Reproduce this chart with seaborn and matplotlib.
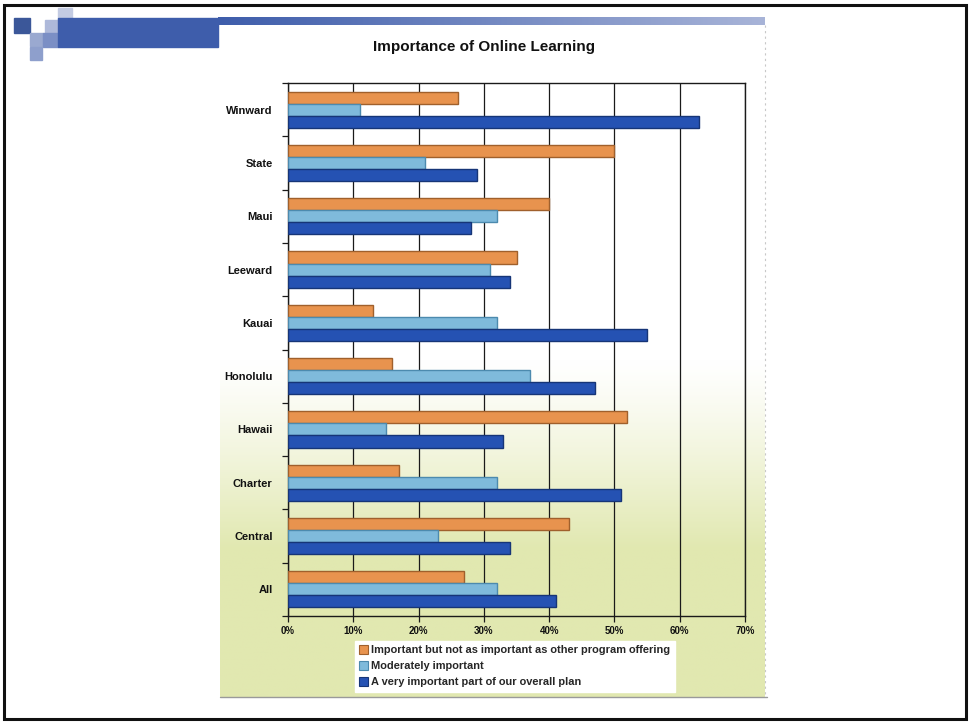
import numpy as np
import pandas as pd
import matplotlib
matplotlib.use("Agg")
import matplotlib.pyplot as plt
import seaborn as sns
from matplotlib.patches import Rectangle, Patch
from matplotlib.ticker import FixedLocator, FuncFormatter

# ---- data -------------------------------------------------------------
categories = ["Winward", "State", "Maui", "Leeward", "Kauai",
              "Honolulu", "Hawaii", "Charter", "Central", "All"]
series_names = ["Important but not as important as other program offering",
                "Moderately important",
                "A very important part of our overall plan"]
not_as_important = [26, 50, 40, 35, 13, 16, 52, 17, 43, 27]
moderately_important = [11, 21, 32, 31, 32, 37, 15, 32, 23, 32]
very_important = [63, 29, 28, 34, 55, 47, 33, 51, 34, 41]
x_ticks = [0, 10, 20, 30, 40, 50, 60, 70]
title = "Importance of Online Learning"

df = pd.DataFrame({
    "site": categories * 3,
    "series": [series_names[0]] * 10 + [series_names[1]] * 10 + [series_names[2]] * 10,
    "pct": not_as_important + moderately_important + very_important,
})

fill_colors = ["#E8934E", "#7FBADB", "#2552B3"]
edge_colors = ["#A0602C", "#4C8AAE", "#163577"]

# ---- figure ------------------------------------------------------------
sns.set_style("white")
plt.rcParams["font.family"] = ["Liberation Sans", "DejaVu Sans"]

W, H = 969, 722
fig = plt.figure(figsize=(W / 100, H / 100), dpi=100, facecolor="white")


def box(x0, y0, w, h):
    """Pixel box (top-left origin) -> figure fraction rect."""
    return [x0 / W, 1 - (y0 + h) / H, w / W, h / H]


def fig_rect(x0, y0, w, h, **kw):
    fig.patches.append(Rectangle((x0 / W, 1 - (y0 + h) / H), w / W, h / H,
                                 transform=fig.transFigure, **kw))


# chart panel background: white fading into pale green toward the bottom
bg = fig.add_axes(box(220, 25, 545, 672), zorder=0)
rows = 400
t = np.linspace(0, 1, rows)
blend = np.clip((t - 0.50) / 0.28, 0, 1) ** 1.2
white = np.array([1.0, 1.0, 1.0])
green = np.array([225, 232, 176]) / 255
grad = white[None, :] * (1 - blend[:, None]) + green[None, :] * blend[:, None]
bg.imshow(np.repeat(grad[:, None, :], 4, axis=1), aspect="auto",
          extent=[0, 1, 0, 1], origin="upper")
bg.set_axis_off()

# panel edges
fig.lines.append(plt.Line2D([765 / W, 765 / W], [1 - 25 / H, 1 - 697 / H],
                            transform=fig.transFigure, color="#c8c8c8",
                            lw=0.8, ls=(0, (2, 3))))
fig.lines.append(plt.Line2D([220 / W, 767 / W], [1 - 697 / H, 1 - 697 / H],
                            transform=fig.transFigure, color="#9a9a9a", lw=1.0))

# header decoration: squares and bars
fig_rect(14, 18, 16, 15, color="#3b5799", zorder=1)
fig_rect(58, 8, 14, 12, color="#c3cbe2", zorder=1)
fig_rect(45, 20, 13, 13, color="#aeb9da", zorder=1)
fig_rect(30, 33, 13, 13, color="#9aa9d0", zorder=1)
fig_rect(43, 33, 15, 14, color="#7b8fc5", zorder=1)
fig_rect(30, 47, 12, 13, color="#8e9fcc", zorder=1)
fig_rect(58, 18, 160, 29, color="#3e5dab", zorder=1)

bar_ax = fig.add_axes(box(218, 17, 547, 8), zorder=1)
bar_grad = np.linspace(0, 1, 300)
c0 = np.array([62, 93, 171]) / 255
c1 = np.array([168, 180, 216]) / 255
bar_img = c0[None, :] * (1 - bar_grad[:, None]) + c1[None, :] * bar_grad[:, None]
bar_ax.imshow(bar_img[None, :, :], aspect="auto", extent=[0, 1, 0, 1])
bar_ax.set_axis_off()

# outer frame
fig_rect(4, 5, 962, 714, fill=False, edgecolor="#111111", lw=2.2, zorder=5)

# ---- bar chart ---------------------------------------------------------
ax = fig.add_axes(box(288, 83, 457, 533), zorder=2)
ax.set_facecolor("none")
sns.barplot(data=df, y="site", x="pct", hue="series", order=categories,
            hue_order=series_names, orient="h", palette=fill_colors,
            width=0.68, gap=0, linewidth=0.9, saturation=1, ax=ax, zorder=3)
for cont, ec in zip(ax.containers, edge_colors):
    for p in cont:
        p.set_edgecolor(ec)
        p.set_linewidth(1.0)

leg = ax.get_legend()
if leg is not None:
    leg.remove()

ax.set_xlim(0, 70)
ax.set_ylim(len(categories) - 0.5, -0.5)
ax.set_xlabel("")
ax.set_ylabel("")
ax.xaxis.set_major_locator(FixedLocator(x_ticks))
ax.xaxis.set_major_formatter(FuncFormatter(lambda v, _: f"{v:.0f}%"))
ax.grid(axis="x", color="#1a1a1a", lw=0.9, zorder=1)
ax.grid(axis="y", visible=False)
ax.set_axisbelow(True)
for s in ax.spines.values():
    s.set_visible(True)
    s.set_color("#1a1a1a")
    s.set_linewidth(1.0)

ax.tick_params(axis="x", which="major", direction="out", length=4, width=0.9,
               color="#1a1a1a", pad=3.5, bottom=True)
ax.tick_params(axis="y", which="major", length=0, pad=11)
ax.yaxis.set_minor_locator(FixedLocator([i + 0.5 for i in range(-1, len(categories))]))
ax.tick_params(axis="y", which="minor", direction="out", length=4, width=0.9,
               color="#1a1a1a", left=True)
for lab in ax.get_xticklabels():
    lab.set_fontsize(7)
    lab.set_fontweight("bold")
    lab.set_color("#111111")
for lab in ax.get_yticklabels():
    lab.set_fontsize(8)
    lab.set_fontweight("bold")
    lab.set_color("#111111")

# title
fig.text(484 / W, 1 - 47 / H, title, ha="center", va="center",
         fontsize=11, fontweight="bold", color="#111111")

# legend
handles = [Patch(facecolor=fc, edgecolor=ec, lw=0.8)
           for fc, ec in zip(fill_colors, edge_colors)]
fig.legend(handles, series_names, loc="upper left",
           bbox_to_anchor=(355 / W, 1 - 641 / H), frameon=True,
           fancybox=False, framealpha=1, edgecolor="white", facecolor="white",
           prop={"size": 7.9, "weight": "bold"}, handlelength=0.8,
           handleheight=0.8, handletextpad=0.3, labelspacing=0.55,
           borderpad=0.4, borderaxespad=0)

fig.savefig("out.png", dpi=100, facecolor="white")
